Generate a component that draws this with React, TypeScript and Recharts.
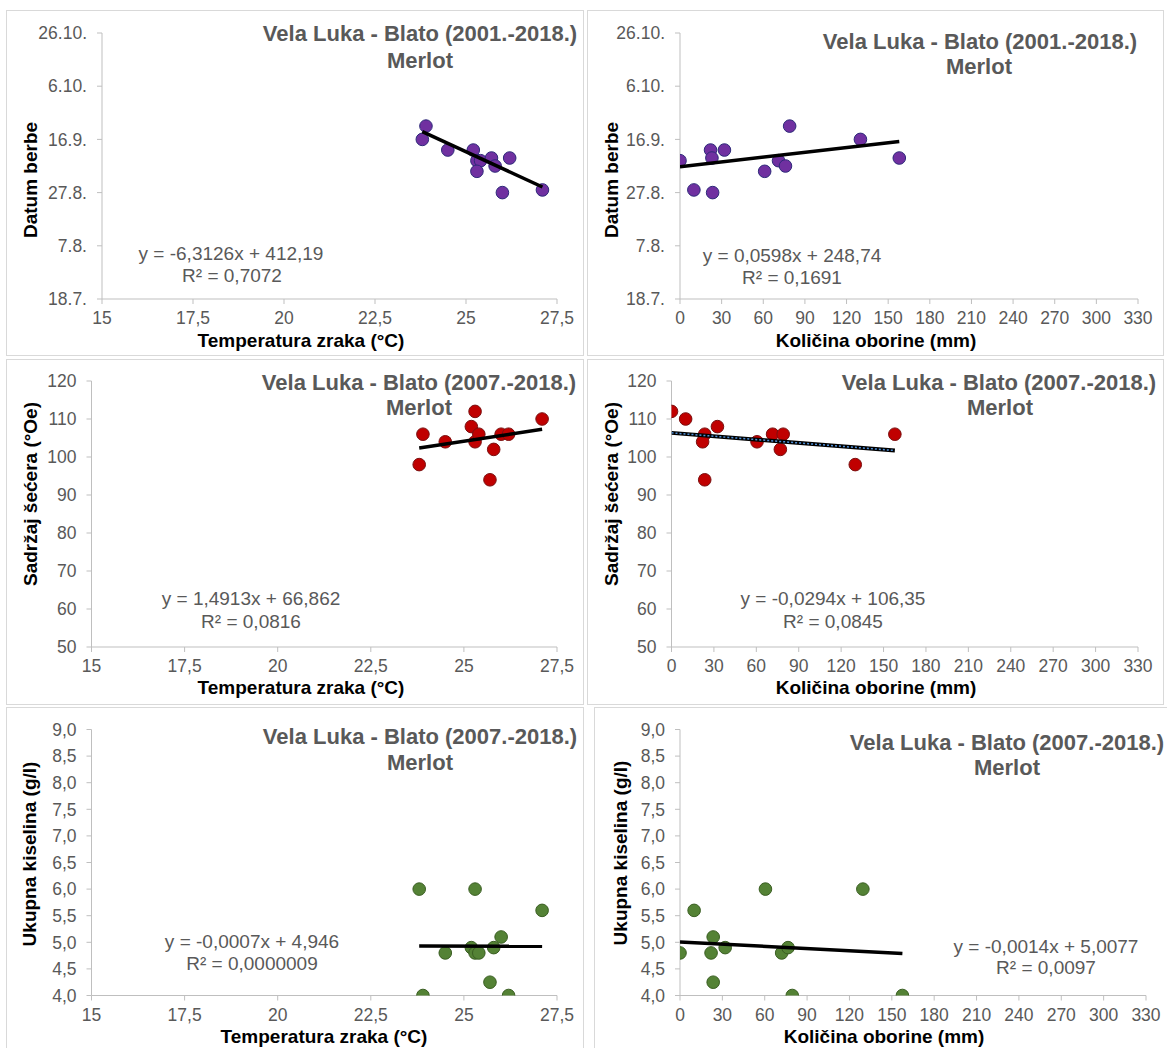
import React from "react";
import { ScatterChart, Scatter, XAxis, YAxis } from "recharts";

const FONT = '"Liberation Sans", Arial, sans-serif';
const GREY = "#595959";

// datum berbe kao dan u godini (199 = 18.7., 299 = 26.10.)
const tempBerba = [23.8, 23.9, 24.5, 25.2, 25.3, 25.4, 25.3, 25.7, 25.8, 26.2, 26.0, 27.1];
const danBerbeT = [259, 264, 255, 255, 251, 251, 247, 252, 249, 252, 239, 240];
const oborinaBerba = [0, 10, 22, 23, 23.5, 32, 61, 71, 76, 79, 130, 158];
const danBerbeO = [251, 240, 255, 252, 239, 255, 247, 251, 249, 264, 259, 252];

// sadržaj šećera (°Oe)
const tempSecer = [23.8, 23.9, 24.5, 25.2, 25.3, 25.3, 25.4, 25.7, 25.8, 26.0, 26.2, 27.1];
const secerT = [98, 106, 104, 108, 112, 104, 106, 94, 102, 106, 106, 110];
const oborinaSecer = [0, 10, 23.5, 22, 23.5, 32.5, 60.5, 71.5, 79, 77, 130, 158];
const secerO = [112, 110, 106, 104, 94, 108, 104, 106, 106, 102, 98, 106];

// ukupna kiselina (g/l)
const tempKiselina = [23.8, 23.9, 24.5, 25.2, 25.3, 25.3, 25.4, 25.7, 25.8, 26.0, 26.2, 27.1];
const kiselinaT = [6.0, 4.0, 4.8, 4.9, 6.0, 4.8, 4.8, 4.25, 4.9, 5.1, 4.0, 5.6];
const oborinaKiselina = [0, 10, 22, 23.5, 23.5, 32, 60.5, 72, 76.5, 79.5, 129.5, 157.5];
const kiselinaO = [4.8, 5.6, 4.8, 5.1, 4.25, 4.9, 6.0, 4.8, 4.9, 4.0, 6.0, 4.0];

// osi
const tempTicks = [15, 17.5, 20, 22.5, 25, 27.5];
const oborinaTicks = [0, 30, 60, 90, 120, 150, 180, 210, 240, 270, 300, 330];
const danTicks = [199, 219, 239, 259, 279, 299];
const secerTicks = [50, 60, 70, 80, 90, 100, 110, 120];
const kiselinaTicks = [4, 4.5, 5, 5.5, 6, 6.5, 7, 7.5, 8, 8.5, 9];

const zip = (xs: number[], ys: number[]) => xs.map((x, i) => ({ x, y: ys[i] }));

const fmtDan = (d: number) => {
  const dt = new Date(2001, 0, d);
  return `${dt.getDate()}.${dt.getMonth() + 1}.`;
};
const fmtComma = (v: number) => String(v).replace(".", ",");
const fmtOne = (v: number) => v.toFixed(1).replace(".", ",");

type Rect = { x0: number; y0: number; x1: number; y1: number };

type PanelProps = {
  box: { x: number; y: number; w: number; h: number };
  plot: Rect;
  xDomain: [number, number];
  xTicks: number[];
  xFmt: (v: number) => string;
  yDomain: [number, number];
  yTicks: number[];
  yFmt: (v: number) => string;
  points: { x: number; y: number }[];
  fill: string;
  stroke: string;
  slope: number;
  intercept: number;
  dotted?: boolean;
};

function Panel(p: PanelProps) {
  const ix = p.box.x + 1;
  const iy = p.box.y + 1;
  const iw = p.box.w - 2;
  const ih = p.box.h - 2;
  const YW = 60;
  const XH = 40;
  const margin = {
    left: p.plot.x0 - ix - YW,
    right: ix + iw - p.plot.x1,
    top: p.plot.y0 - iy,
    bottom: iy + ih - p.plot.y1 - XH,
  };
  const xs = p.points.map((d) => d.x);
  const lo = Math.min(...xs);
  const hi = Math.max(...xs);
  const trend = [lo, hi].map((x) => ({ x, y: p.slope * x + p.intercept }));
  const tick = { fontSize: 17.5, fill: GREY, fontFamily: FONT };

  return (
    <div
      style={{
        position: "absolute",
        left: p.box.x,
        top: p.box.y,
        width: p.box.w,
        height: p.box.h,
        border: "1px solid #d9d9d9",
        boxSizing: "border-box",
        background: "#fff",
      }}
    >
      <ScatterChart width={iw} height={ih} margin={margin}>
        <XAxis
          type="number"
          dataKey="x"
          domain={p.xDomain}
          ticks={p.xTicks}
          interval={0}
          tickFormatter={p.xFmt}
          height={XH}
          tick={tick}
          tickSize={5}
          tickMargin={8}
          axisLine={{ stroke: "#bfbfbf" }}
          tickLine={{ stroke: "#bfbfbf" }}
          allowDataOverflow
        />
        <YAxis
          type="number"
          dataKey="y"
          domain={p.yDomain}
          ticks={p.yTicks}
          interval={0}
          tickFormatter={p.yFmt}
          width={YW}
          tick={tick}
          tickSize={5}
          tickMargin={10}
          axisLine={{ stroke: "#bfbfbf" }}
          tickLine={{ stroke: "#bfbfbf" }}
          allowDataOverflow
        />
        <Scatter
          data={p.points}
          isAnimationActive={false}
          shape={(s: any) => (
            <circle cx={s.cx} cy={s.cy} r={6.3} fill={p.fill} stroke={p.stroke} strokeWidth={1} />
          )}
        />
        <Scatter
          data={trend}
          isAnimationActive={false}
          line={{ stroke: "#000", strokeWidth: p.dotted ? 4 : 3.5 }}
          shape={() => <g />}
        />
        {p.dotted && (
          <Scatter
            data={trend}
            isAnimationActive={false}
            line={{ stroke: "#4f8fd6", strokeWidth: 1.5, strokeDasharray: "2 2" }}
            shape={() => <g />}
          />
        )}
      </ScatterChart>
    </div>
  );
}

type Txt = { t: string; x: number; y: number; kind: "title" | "eq" | "ax" | "yax" };

function Label({ t, x, y, kind }: Txt) {
  const base: React.CSSProperties = {
    position: "absolute",
    left: x,
    top: y,
    whiteSpace: "nowrap",
    fontFamily: FONT,
    lineHeight: 1,
    transform: "translate(-50%, -50%)",
  };
  if (kind === "title") Object.assign(base, { fontSize: 22, fontWeight: 700, color: GREY });
  if (kind === "eq") Object.assign(base, { fontSize: 19, color: GREY });
  if (kind === "ax") Object.assign(base, { fontSize: 19, fontWeight: 700, color: "#000" });
  if (kind === "yax")
    Object.assign(base, {
      fontSize: 19,
      fontWeight: 700,
      color: "#000",
      transform: "translate(-50%, -50%) rotate(-90deg)",
    });
  return <div style={base}>{t}</div>;
}

const T1 = "Vela Luka - Blato (2001.-2018.)";
const T2 = "Vela Luka - Blato (2007.-2018.)";
const XT = "Temperatura zraka (°C)";
const XO = "Količina oborine (mm)";

const labels: Txt[] = [
  { t: T1, x: 420, y: 34, kind: "title" },
  { t: "Merlot", x: 420, y: 61, kind: "title" },
  { t: "y = -6,3126x + 412,19", x: 231, y: 253, kind: "eq" },
  { t: "R² = 0,7072", x: 232, y: 275, kind: "eq" },
  { t: "Datum berbe", x: 30, y: 180, kind: "yax" },
  { t: XT, x: 301, y: 340, kind: "ax" },

  { t: T1, x: 980, y: 42, kind: "title" },
  { t: "Merlot", x: 979, y: 67, kind: "title" },
  { t: "y = 0,0598x + 248,74", x: 792, y: 255, kind: "eq" },
  { t: "R² = 0,1691", x: 792, y: 277, kind: "eq" },
  { t: "Datum berbe", x: 611, y: 180, kind: "yax" },
  { t: XO, x: 876, y: 340, kind: "ax" },

  { t: T2, x: 419, y: 383, kind: "title" },
  { t: "Merlot", x: 419, y: 408, kind: "title" },
  { t: "y = 1,4913x + 66,862", x: 251, y: 598, kind: "eq" },
  { t: "R² = 0,0816", x: 251, y: 621, kind: "eq" },
  { t: "Sadržaj šećera (°Oe)", x: 30, y: 494, kind: "yax" },
  { t: XT, x: 301, y: 687, kind: "ax" },

  { t: T2, x: 999, y: 383, kind: "title" },
  { t: "Merlot", x: 1000, y: 408, kind: "title" },
  { t: "y = -0,0294x + 106,35", x: 833, y: 598, kind: "eq" },
  { t: "R² = 0,0845", x: 833, y: 621, kind: "eq" },
  { t: "Sadržaj šećera (°Oe)", x: 611, y: 494, kind: "yax" },
  { t: XO, x: 876, y: 687, kind: "ax" },

  { t: T2, x: 420, y: 737, kind: "title" },
  { t: "Merlot", x: 420, y: 763, kind: "title" },
  { t: "y = -0,0007x + 4,946", x: 252, y: 941, kind: "eq" },
  { t: "R² = 0,0000009", x: 252, y: 963, kind: "eq" },
  { t: "Ukupna kiselina (g/l)", x: 29, y: 854, kind: "yax" },
  { t: XT, x: 324, y: 1036, kind: "ax" },

  { t: T2, x: 1007, y: 743, kind: "title" },
  { t: "Merlot", x: 1007, y: 768, kind: "title" },
  { t: "y = -0,0014x + 5,0077", x: 1046, y: 946, kind: "eq" },
  { t: "R² = 0,0097", x: 1046, y: 967, kind: "eq" },
  { t: "Ukupna kiselina (g/l)", x: 620, y: 853, kind: "yax" },
  { t: XO, x: 884, y: 1036, kind: "ax" },
];

const PURPLE = { fill: "#7030a0", stroke: "#2e2a7a" };
const RED = { fill: "#c00000", stroke: "#7a1010" };
const GREEN = { fill: "#548235", stroke: "#3a5e22" };

export default function App() {
  return (
    <div
      style={{
        position: "absolute",
        left: 0,
        top: 0,
        width: 1167,
        height: 1048,
        background: "#fff",
        overflow: "hidden",
        fontFamily: FONT,
      }}
    >
      <Panel
        box={{ x: 6, y: 10, w: 578, h: 346 }}
        plot={{ x0: 102, y0: 33, x1: 557, y1: 299 }}
        xDomain={[15, 27.5]}
        xTicks={tempTicks}
        xFmt={fmtComma}
        yDomain={[199, 299]}
        yTicks={danTicks}
        yFmt={fmtDan}
        points={zip(tempBerba, danBerbeT)}
        {...PURPLE}
        slope={-6.3126}
        intercept={412.19}
      />
      <Panel
        box={{ x: 587, y: 10, w: 577, h: 346 }}
        plot={{ x0: 680, y0: 33, x1: 1138, y1: 299 }}
        xDomain={[0, 330]}
        xTicks={oborinaTicks}
        xFmt={fmtComma}
        yDomain={[199, 299]}
        yTicks={danTicks}
        yFmt={fmtDan}
        points={zip(oborinaBerba, danBerbeO)}
        {...PURPLE}
        slope={0.0598}
        intercept={248.74}
      />
      <Panel
        box={{ x: 6, y: 359, w: 578, h: 346 }}
        plot={{ x0: 91.5, y0: 381, x1: 557, y1: 647 }}
        xDomain={[15, 27.5]}
        xTicks={tempTicks}
        xFmt={fmtComma}
        yDomain={[50, 120]}
        yTicks={secerTicks}
        yFmt={fmtComma}
        points={zip(tempSecer, secerT)}
        {...RED}
        slope={1.4913}
        intercept={66.862}
      />
      <Panel
        box={{ x: 587, y: 359, w: 577, h: 346 }}
        plot={{ x0: 671.5, y0: 381, x1: 1138, y1: 647 }}
        xDomain={[0, 330]}
        xTicks={oborinaTicks}
        xFmt={fmtComma}
        yDomain={[50, 120]}
        yTicks={secerTicks}
        yFmt={fmtComma}
        points={zip(oborinaSecer, secerO)}
        {...RED}
        slope={-0.0294}
        intercept={106.35}
        dotted
      />
      <Panel
        box={{ x: 6, y: 707, w: 578, h: 345 }}
        plot={{ x0: 91.5, y0: 729.5, x1: 557, y1: 995.5 }}
        xDomain={[15, 27.5]}
        xTicks={tempTicks}
        xFmt={fmtComma}
        yDomain={[4, 9]}
        yTicks={kiselinaTicks}
        yFmt={fmtOne}
        points={zip(tempKiselina, kiselinaT)}
        {...GREEN}
        slope={-0.0007}
        intercept={4.946}
      />
      <Panel
        box={{ x: 594, y: 707, w: 575, h: 345 }}
        plot={{ x0: 680, y0: 729.5, x1: 1146, y1: 995.5 }}
        xDomain={[0, 330]}
        xTicks={oborinaTicks}
        xFmt={fmtComma}
        yDomain={[4, 9]}
        yTicks={kiselinaTicks}
        yFmt={fmtOne}
        points={zip(oborinaKiselina, kiselinaO)}
        {...GREEN}
        slope={-0.0014}
        intercept={5.0077}
      />
      {labels.map((l, i) => (
        <Label key={i} {...l} />
      ))}
    </div>
  );
}
